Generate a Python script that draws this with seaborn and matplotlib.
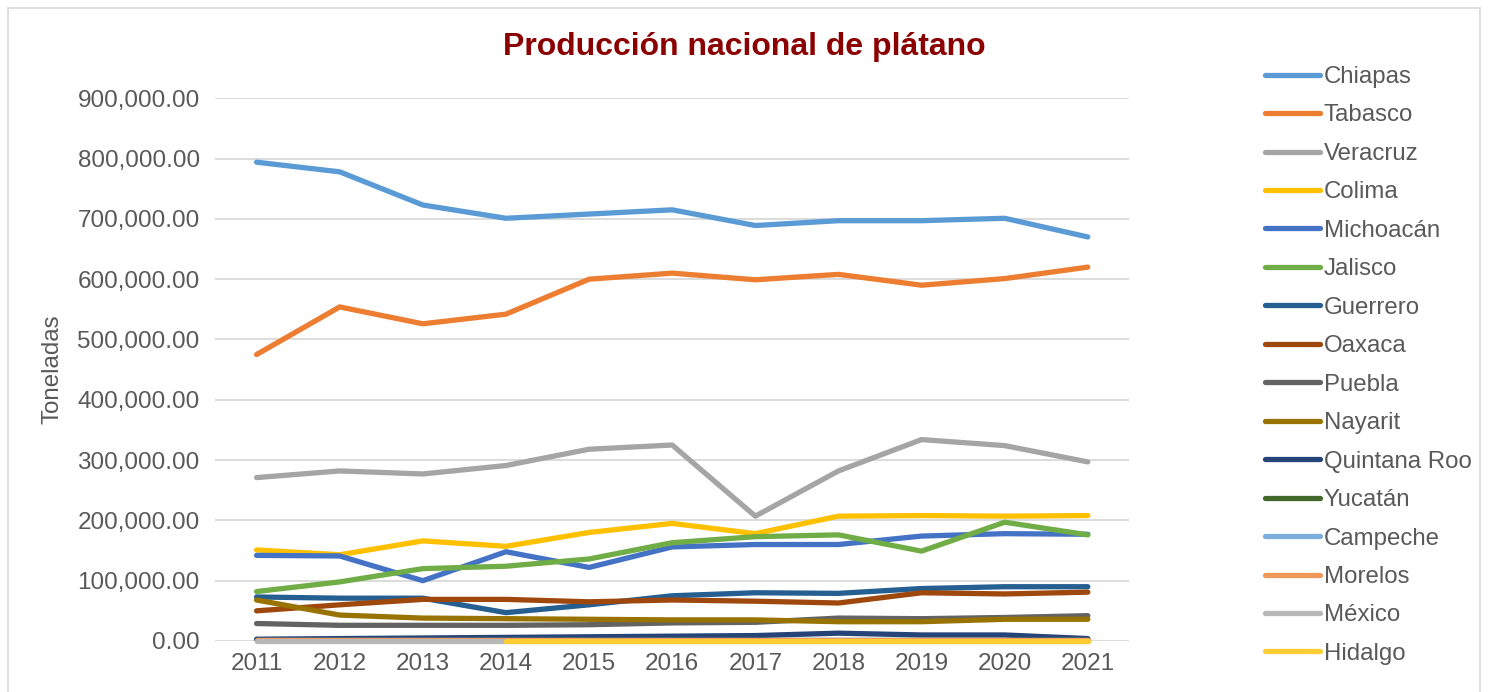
import pandas as pd
import matplotlib.pyplot as plt
import seaborn as sns
from matplotlib.patches import Rectangle
from matplotlib.ticker import FuncFormatter

# Produccion de platano por estado (toneladas)
years = ['2011', '2012', '2013', '2014', '2015', '2016', '2017', '2018', '2019', '2020', '2021']

chiapas = [794000, 778000, 723000, 701000, 708000, 715000, 689000, 697000, 697000, 701000, 670000]
tabasco = [475000, 554000, 526000, 542000, 600000, 610000, 599000, 608000, 590000, 601000, 620000]
veracruz = [271000, 282000, 277000, 291000, 318000, 325000, 207000, 282000, 334000, 324000, 297000]
colima = [151000, 143000, 166000, 157000, 180000, 195000, 178000, 207000, 208000, 207000, 208000]
michoacan = [142000, 141000, 100000, 148000, 122000, 156000, 160000, 160000, 174000, 178000, 177000]
jalisco = [82000, 98000, 120000, 124000, 136000, 163000, 173000, 176000, 149000, 197000, 176000]
guerrero = [73000, 71000, 71000, 47000, 60000, 75000, 80000, 79000, 87000, 90000, 90000]
oaxaca = [50000, 60000, 69000, 69000, 65000, 68000, 66000, 63000, 80000, 78000, 81000]
puebla = [29000, 26000, 26000, 26000, 27000, 30000, 31000, 38000, 37000, 39000, 42000]
nayarit = [68000, 43000, 38000, 37000, 36000, 35000, 35000, 32000, 32000, 36000, 36000]
quintana_roo = [3000, 4000, 5000, 6000, 7000, 8000, 9000, 13000, 10000, 10000, 4000]
yucatan = [2000, 2000, 2000, 2000, 2000, 2000, 2000, 2000, 2000, 2000, 2000]
campeche = [1500, 1500, 1500, 1500, 1500, 1500, 1500, 1500, 1500, 1500, 1500]
morelos = [1000, 1000, 1000, 1000, 1000, 1000, 1000, 1000, 1000, 1000, 1000]
mexico = [800, 800, 800, 800, 800, 800, 800, 800, 800, 800, 800]
hidalgo = [None, None, None, 800, 800, 800, 800, 800, 800, 800, 800]

states = ['Chiapas', 'Tabasco', 'Veracruz', 'Colima', 'Michoacán', 'Jalisco', 'Guerrero', 'Oaxaca',
          'Puebla', 'Nayarit', 'Quintana Roo', 'Yucatán', 'Campeche', 'Morelos', 'México', 'Hidalgo']
values = [chiapas, tabasco, veracruz, colima, michoacan, jalisco, guerrero, oaxaca,
          puebla, nayarit, quintana_roo, yucatan, campeche, morelos, mexico, hidalgo]
colors = ['#5B9BD5', '#ED7D31', '#A5A5A5', '#FFC000', '#4472C4', '#70AD47', '#255E91', '#9E480E',
          '#636363', '#997300', '#264478', '#43682B', '#7CAFDD', '#F1975A', '#B7B7B7', '#FFCD33']

rows = []
for s, vals in zip(states, values):
    for i, v in enumerate(vals):
        if v is not None:
            rows.append({'idx': i, 'Estado': s, 'Toneladas': v})
df = pd.DataFrame(rows)

sns.set_style('white')
plt.rcParams['font.family'] = ['Liberation Sans', 'DejaVu Sans']

fig = plt.figure(figsize=(14.88, 6.92), dpi=100)
ax = fig.add_axes([0.1445, 0.0737, 0.6145, 0.7843])

sns.lineplot(data=df, x='idx', y='Toneladas', hue='Estado', hue_order=states,
             palette=dict(zip(states, colors)), linewidth=3.8, ax=ax, legend=False,
             solid_capstyle='round')
# las lineas en cero no se recortan (como en Excel)
for ln in ax.lines:
    ln.set_clip_on(False)

ax.set_xlim(-0.5, 10.5)
ax.set_ylim(0, 900000)
ax.set_xticks(range(len(years)))
ax.set_xticklabels(years)
ax.set_yticks(range(0, 900001, 100000))
ax.yaxis.set_major_formatter(FuncFormatter(lambda v, p: '{:,.2f}'.format(v)))
ax.tick_params(axis='both', labelsize=17.5, labelcolor='#595959', length=0)
ax.tick_params(axis='y', pad=11)
ax.tick_params(axis='x', pad=9)
ax.grid(axis='y', color='#D9D9D9', linewidth=1.3)
ax.set_axisbelow(True)
for sp in ax.spines.values():
    sp.set_visible(False)
ax.set_xlabel('')
ax.set_ylabel('Toneladas', fontsize=17.4, color='#595959', labelpad=10)

fig.text(0.5, 0.932, 'Producción nacional de plátano', ha='center', va='center',
         fontsize=23, fontweight='bold', color='#8B0000')

handles = [plt.Line2D([], [], color=c, linewidth=3.8, solid_capstyle='round') for c in colors]
fig.legend(handles, states, loc='upper left', bbox_to_anchor=(1265 / 1488, 1 - 66 / 692),
           frameon=False, fontsize=17.3, labelcolor='#595959', handlelength=2.29,
           handletextpad=0.15, labelspacing=0.685, borderaxespad=0, borderpad=0)

fig.patches.append(Rectangle((8 / 1488, -0.05), 1472 / 1488, 1.05 - 8 / 692,
                             transform=fig.transFigure, fill=False, edgecolor='#D9D9D9',
                             linewidth=1.2))

fig.savefig('out.png', dpi=100)
